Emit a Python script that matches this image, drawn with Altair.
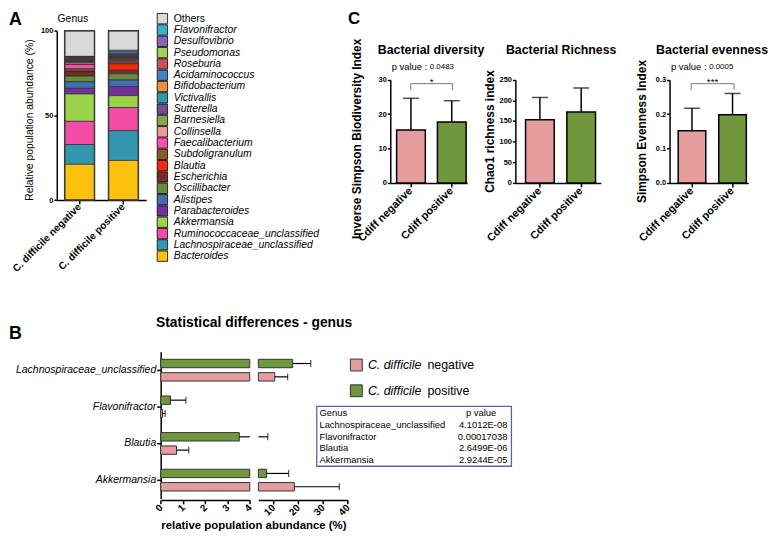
import altair as alt
import pandas as pd

FONT = "Liberation Sans"
W, H = 769, 529

# ---------------- Panel A : stacked genus composition ----------------
groups_a = ["C. difficile negative", "C. difficile positive"]
genus_legend = ["Others", "Flavonifractor", "Desulfovibrio", "Pseudomonas", "Roseburia",
                "Acidaminococcus", "Bifidobacterium", "Victivallis", "Sutterella", "Barnesiella",
                "Collinsella", "Faecalibacterium", "Subdoligranulum", "Blautia", "Escherichia",
                "Oscillibacter", "Alistipes", "Parabacteroides", "Akkermansia",
                "Ruminococcaceae_unclassified", "Lachnospiraceae_unclassified", "Bacteroides"]
genus_colors = ["#d9d9d9", "#36b2d0", "#8c63b4", "#a5cf5b", "#c3545a",
                "#4a7fc4", "#e8923c", "#2f98a9", "#6e4f8f", "#89a54c",
                "#e89b9b", "#f84fab", "#8b5a2b", "#f52a0a", "#7a2b2b",
                "#6a8a3c", "#3f70ad", "#7530a0", "#9bd44a",
                "#f34ca5", "#3597af", "#fcc20e"]
abund_negative = [15.1, 0.1, 0.5, 0.3, 0.6, 0.4, 0.5, 0.5, 0.5, 0.6,
                  0.8, 2.6, 1.4, 0.3, 2.5, 3.4, 3.9, 3.3, 16.2, 13.7, 11.7, 21.1]
abund_positive = [11.5, 1.0, 1.2, 0.4, 0.6, 0.5, 0.4, 0.5, 0.5, 0.6,
                  0.5, 0.8, 1.0, 3.8, 2.1, 3.7, 3.9, 5.3, 7.0, 13.7, 17.6, 23.4]

# ---------------- Panel B : statistical differences ----------------
b_genus = ["Lachnospiraceae_unclassified", "Flavonifractor", "Blautia", "Akkermansia"]
b_neg_mean = [10.6, 0.08, 0.71, 18.5]
b_neg_upper = [15.8, 0.2, 1.26, 36.6]
b_pos_mean = [17.8, 0.44, 3.53, 7.3]
b_pos_upper = [25.1, 1.13, 7.8, 16.2]
table_genus = ["Lachnospiraceae_unclassified", "Flavonifractor", "Blautia", "Akkermansia"]
table_p = ["4.1012E-08", "0.00017038", "2.6499E-06", "2.9244E-05"]

# ---------------- Panel C : diversity indices ----------------
c_groups = ["Cdiff negative", "Cdiff positive"]
div_mean, div_upper = [15.4, 17.7], [24.6, 23.9]
rich_mean, rich_upper = [153, 172], [207, 230]
even_mean, even_upper = [0.152, 0.198], [0.217, 0.260]

PINK = "#e49c9d"
GREEN = "#6f973b"


def px(x):
    return x - 8


def py(y):
    return y - 8


one = pd.DataFrame({"k": [0]})


def label(text, x, y, size=10, weight="normal", style="normal", align="left",
          angle=0, color="black"):
    return alt.Chart(one).mark_text(
        text=text, fontSize=size, fontWeight=weight, fontStyle=style, align=align,
        baseline="middle", angle=angle, color=color, font=FONT
    ).encode(x=alt.value(px(x)), y=alt.value(py(y)))


def hrule(x1, x2, y, color="#777", width=1.0):
    return alt.Chart(one).mark_rule(color=color, strokeWidth=width).encode(
        x=alt.value(px(x1)), x2=alt.value(px(x2)), y=alt.value(py(y)))


def vrule(x, y1, y2, color="#777", width=1.0):
    return alt.Chart(one).mark_rule(color=color, strokeWidth=width).encode(
        x=alt.value(px(x)), y=alt.value(py(y1)), y2=alt.value(py(y2)))


layers = []

# ---- Panel A layers
rows = []
n = len(genus_legend)
for i, g in enumerate(genus_legend):
    rows.append({"group": groups_a[0], "genus": g, "value": abund_negative[i], "order": n - 1 - i})
    rows.append({"group": groups_a[1], "genus": g, "value": abund_positive[i], "order": n - 1 - i})
dfA = pd.DataFrame(rows)
color_a = alt.Color("genus:N", scale=alt.Scale(domain=genus_legend, range=genus_colors), legend=None)
xA_scale = alt.Scale(domain=groups_a, range=[px(57.3), px(147.7)], paddingInner=0.32, paddingOuter=0.18)
yA_scale = alt.Scale(domain=[0, 100], range=[py(199.3), py(28.3)], nice=False)

barsA = alt.Chart(dfA).mark_bar(stroke="#2b2b2b", strokeWidth=0.7).encode(
    x=alt.X("group:N", scale=xA_scale,
            axis=alt.Axis(orient="bottom", offset=py(199.3) - H, title=None, labelAngle=-45,
                          labelAlign="right", labelBaseline="middle", labelFontSize=10.2,
                          labelFontWeight="bold", tickSize=4, labelPadding=1)),
    y=alt.Y("value:Q", stack="zero", scale=yA_scale,
            axis=alt.Axis(orient="left", offset=-px(57.3), values=[0, 50, 100], title=None,
                          labelFontSize=7.5, labelFontWeight="bold", tickSize=3, labelPadding=1)),
    color=color_a,
    order=alt.Order("order:Q"),
)
frameA = alt.Chart(dfA).transform_aggregate(total="sum(value)", groupby=["group"]).mark_bar(
    fillOpacity=0, stroke="#3a3a3a", strokeWidth=1.5).encode(
    x=alt.X("group:N", scale=xA_scale, axis=None),
    y=alt.Y("total:Q", scale=yA_scale, axis=None),
)
layers += [barsA, frameA]

dfLeg = pd.DataFrame({"genus": genus_legend})
leg_y = alt.Y("genus:N", scale=alt.Scale(type="point", domain=genus_legend,
                                         range=[py(16), py(256)], padding=0), axis=None)
layers.append(alt.Chart(dfLeg).mark_square(size=110, stroke="black", strokeWidth=0.8, opacity=1).encode(
    x=alt.value(px(164)), y=leg_y, color=color_a))
layers.append(alt.Chart(dfLeg).transform_filter(alt.datum.genus != "Others").mark_text(
    align="left", baseline="middle", fontSize=10.5, fontStyle="italic", font=FONT).encode(
    x=alt.value(px(175.5)), y=leg_y, text="genus:N"))
layers.append(alt.Chart(dfLeg).transform_filter(alt.datum.genus == "Others").mark_text(
    align="left", baseline="middle", fontSize=10.5, font=FONT).encode(
    x=alt.value(px(175.5)), y=leg_y, text="genus:N"))

layers += [
    label("A", 9, 17, size=18, weight="bold"),
    label("Genus", 73.5, 16, size=10.5, align="center"),
    label("Relative population abundance (%)", 30, 118.5, size=10.5, align="center", angle=270),
]


# ---- Panel C layers
def c_panel(means, uppers, axis_x, x_end, pad_inner, pad_outer, align, y_max, y_values, y_format):
    df = pd.DataFrame({"cat": c_groups, "mean": means, "upper": uppers})
    xs = alt.Scale(domain=c_groups, range=[px(axis_x), px(x_end)], paddingInner=pad_inner,
                   paddingOuter=pad_outer, align=align)
    ys = alt.Scale(domain=[0, y_max], range=[py(182), py(77.7)], nice=False)
    xax = alt.Axis(orient="bottom", offset=py(182) - H, title=None, labelAngle=-45,
                   labelAlign="right", labelBaseline="middle", labelFontSize=11,
                   labelFontWeight="bold", tickSize=4, labelPadding=2)
    yax = alt.Axis(orient="left", offset=-px(axis_x), title=None, values=y_values,
                   format=y_format, labelFontSize=7.5, labelFontWeight="bold",
                   tickSize=3, labelPadding=1)
    base = alt.Chart(df)
    bars = base.mark_bar(stroke="black", strokeWidth=1.5).encode(
        x=alt.X("cat:N", scale=xs, axis=xax),
        y=alt.Y("mean:Q", scale=ys, axis=yax),
        color=alt.Color("cat:N", scale=alt.Scale(domain=c_groups, range=[PINK, GREEN]), legend=None))
    err = base.mark_rule(color="black", strokeWidth=1.5).encode(
        x=alt.X("cat:N", scale=xs, axis=None),
        y=alt.Y("mean:Q", scale=ys, axis=None), y2="upper:Q")
    cap = base.mark_tick(color="black", thickness=1.5, size=16, orient="horizontal").encode(
        x=alt.X("cat:N", scale=xs, axis=None),
        y=alt.Y("upper:Q", scale=ys, axis=None))
    return [bars, err, cap]


layers += c_panel(div_mean, div_upper, 394.3, 472, 0.296, 0.09, 0.86, 30, [0, 10, 20, 30], "d")
layers += c_panel(rich_mean, rich_upper, 520.7, 607, 0.305, 0.187, 0.66, 250,
                  [0, 50, 100, 150, 200, 250], "d")
layers += c_panel(even_mean, even_upper, 676.5, 756, 0.32, 0.13, 0.82, 0.3,
                  [0, 0.1, 0.2, 0.3], ".1f")

layers += [
    label("C", 351.5, 16, size=17, weight="bold"),
    label("Bacterial diversity", 435.5, 47.5, size=12.5, weight="bold", align="center"),
    label("Bacterial Richness", 567, 47.5, size=12.5, weight="bold", align="center"),
    label("Bacterial evenness", 719.5, 47.5, size=12.5, weight="bold", align="center"),
    label("Inverse Simpson Biodiversity Index", 361, 137.5, size=12, weight="bold",
          align="center", angle=270),
    label("Chao1 richness index", 495, 130, size=12, weight="bold", align="center", angle=270),
    label("Simpson Evenness Index", 648.3, 130, size=12, weight="bold", align="center", angle=270),
    label("p value : ", 395.7, 64.5, size=9.5),
    label("0.0483", 434.2, 64.8, size=8),
    label("p value : ", 678, 64.5, size=9.5),
    label("0.0005", 716.5, 64.8, size=8),
    hrule(415, 457.3, 81.7), vrule(415, 81.7, 88.3), vrule(457.3, 81.7, 88.3),
    label("*", 436, 80.5, size=10, align="center"),
    hrule(698.3, 741.7, 81.7), vrule(698.3, 81.7, 88.3), vrule(741.7, 81.7, 88.3),
    label("***", 720, 80.5, size=10, align="center"),
]

# ---- Panel B layers
rowsB = []
for i, g in enumerate(b_genus):
    rowsB.append({"genus": g, "group": "positive", "val": b_pos_mean[i], "upper": b_pos_upper[i]})
    rowsB.append({"genus": g, "group": "negative", "val": b_neg_mean[i], "upper": b_neg_upper[i]})
dfB = pd.DataFrame(rowsB)

yB_scale = alt.Scale(domain=b_genus, range=[py(352.7), py(500.8)], paddingInner=0, paddingOuter=0)
yoff_scale = alt.Scale(domain=["positive", "negative"], paddingInner=0.37, paddingOuter=0.56)
colorB = alt.Color("group:N", scale=alt.Scale(domain=["negative", "positive"], range=[PINK, GREEN]),
                   legend=None)
s1 = alt.Scale(domain=[0, 4], range=[px(162.3), px(252.3)], clamp=True, nice=False)
s2 = alt.Scale(domain=[4, 40], range=[px(261), px(351.3)], clamp=True, nice=False, zero=False)

axB1 = alt.Axis(orient="bottom", offset=py(502.3) - H, values=[0, 1, 2, 3, 4], format="d",
                title=None, labelAngle=-45, labelAlign="right", labelBaseline="middle",
                labelFontSize=10, labelFontWeight="bold", tickSize=4, labelPadding=2)
axB2 = alt.Axis(orient="bottom", offset=py(502.3) - H, values=[10, 20, 30, 40], format="d",
                title=None, labelAngle=-45, labelAlign="right", labelBaseline="middle",
                labelFontSize=10, labelFontWeight="bold", tickSize=4, labelPadding=2)
yaxB = alt.Axis(orient="left", offset=-px(162.3), title=None, labelFontStyle="italic",
                labelFontSize=10.6, tickSize=4, labelPadding=1)

yB_axis = alt.Y("genus:N", scale=yB_scale, axis=yaxB)
yB = alt.Y("genus:N", scale=yB_scale, axis=None)
yoff = alt.YOffset("group:N", scale=yoff_scale)

baseB = alt.Chart(dfB)
layers += [
    baseB.mark_bar(stroke="#333", strokeWidth=1).encode(
        x=alt.X("val:Q", scale=s1, axis=axB1), y=yB_axis, yOffset=yoff, color=colorB),
    baseB.transform_filter(alt.datum.val > 4).mark_bar(stroke="#333", strokeWidth=1).encode(
        x=alt.X("val:Q", scale=s2, axis=axB2), x2=alt.datum(4), y=yB, yOffset=yoff, color=colorB),
    baseB.transform_filter(alt.datum.val < 4).mark_rule(color="black", strokeWidth=1.2).encode(
        x=alt.X("val:Q", scale=s1, axis=None), x2="upper:Q", y=yB, yOffset=yoff),
    baseB.transform_filter(alt.datum.upper <= 4).mark_tick(color="black", thickness=1.2, size=7,
                                                             orient="vertical").encode(
        x=alt.X("upper:Q", scale=s1, axis=None), y=yB, yOffset=yoff),
    baseB.transform_filter(alt.datum.upper > 4).mark_rule(color="black", strokeWidth=1.2).encode(
        x=alt.X("val:Q", scale=s2, axis=None), x2="upper:Q", y=yB, yOffset=yoff),
    baseB.transform_filter(alt.datum.upper > 4).mark_tick(color="black", thickness=1.2, size=7,
                                                            orient="vertical").encode(
        x=alt.X("upper:Q", scale=s2, axis=None), y=yB, yOffset=yoff),
]

# legend of panel B
dfBL = pd.DataFrame({"group": ["negative", "positive"]})
legB_y = alt.Y("group:N", scale=alt.Scale(type="point", domain=["negative", "positive"],
                                          range=[py(366), py(392)], padding=0), axis=None)
layers += [
    alt.Chart(dfBL).mark_square(size=144, stroke="#333", strokeWidth=1, opacity=1).encode(
        x=alt.value(px(360)), y=legB_y, color=colorB),
    alt.Chart(dfBL).mark_text(text="C. difficile", align="left", baseline="middle", fontSize=12.5,
                              fontStyle="italic", font=FONT).encode(x=alt.value(px(371.7)), y=legB_y),
    alt.Chart(dfBL).mark_text(align="left", baseline="middle", fontSize=12.5, font=FONT).encode(
        x=alt.value(px(431.9)), y=legB_y, text="group:N"),
]

# p-value table
dfT = pd.DataFrame({"genus": table_genus, "p": table_p})
tab_y = alt.Y("genus:N", scale=alt.Scale(type="point", domain=table_genus,
                                         range=[py(426.7), py(461.7)], padding=0), axis=None)
layers += [
    alt.Chart(one).mark_rect(fill="white", stroke="#5566b0", strokeWidth=1.3).encode(
        x=alt.value(px(320)), x2=alt.value(px(516.7)), y=alt.value(py(407.7)), y2=alt.value(py(468.3))),
    label("Genus", 322.7, 415, size=9.5),
    label("p value", 486, 415, size=9.5, align="center"),
    alt.Chart(dfT).mark_text(align="left", baseline="middle", fontSize=9.5, font=FONT).encode(
        x=alt.value(px(322.7)), y=tab_y, text="genus:N"),
    alt.Chart(dfT).mark_text(align="right", baseline="middle", fontSize=9.5, font=FONT).encode(
        x=alt.value(px(512.7)), y=tab_y, text="p:N"),
]

layers += [
    label("B", 9, 335, size=18, weight="bold"),
    label("Statistical differences - genus", 256.7, 324, size=14, weight="bold", align="center"),
    label("relative population abundance (%)", 256.5, 529, size=11.5, weight="bold", align="center"),
]

chart = alt.layer(*layers).resolve_scale(
    x="independent", y="independent", color="independent", yOffset="independent"
).properties(
    width=W, height=H, padding=0, autosize=alt.AutoSizeParams(type="none")
).configure(font=FONT).configure_view(stroke=None).configure_axis(
    domainColor="black", domainWidth=1.5, tickColor="black", tickWidth=1.5, labelColor="black",
    labelFont=FONT, grid=False, labelFlush=False, labelOverlap=False, labelBound=False
)

chart.save("out.html", embed_options={"renderer": "svg", "actions": False})
